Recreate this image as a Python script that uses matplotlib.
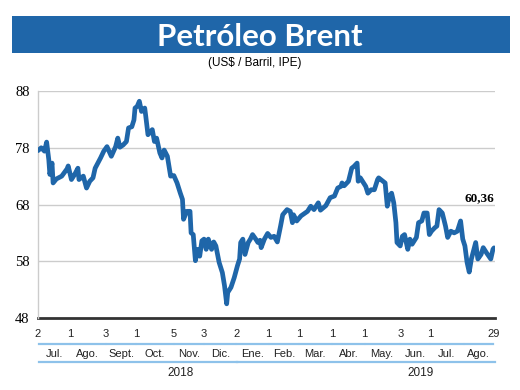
#!/usr/bin/env python3
import datetime as dt

import matplotlib
matplotlib.use("Agg")
import matplotlib.pyplot as plt
from matplotlib.patches import Rectangle
from matplotlib.transforms import blended_transform_factory


# ──────────────────────────────────────────────────────────────────────────────
# Data
# ──────────────────────────────────────────────────────────────────────────────

TITLE = "Petróleo Brent"
SUBTITLE = "(US$ / Barril, IPE)"

DATES = [
    "2018-07-02", "2018-07-05", "2018-07-08", "2018-07-10", "2018-07-12",
    "2018-07-13", "2018-07-15", "2018-07-16", "2018-07-19", "2018-07-24",
    "2018-07-29", "2018-07-30", "2018-08-02", "2018-08-05", "2018-08-08",
    "2018-08-09", "2018-08-13", "2018-08-16", "2018-08-19", "2018-08-22",
    "2018-08-24", "2018-08-29", "2018-09-01", "2018-09-04", "2018-09-08",
    "2018-09-12", "2018-09-14", "2018-09-16", "2018-09-19", "2018-09-22",
    "2018-09-24", "2018-09-27", "2018-09-29", "2018-09-30", "2018-10-02",
    "2018-10-04", "2018-10-06", "2018-10-09", "2018-10-10", "2018-10-12",
    "2018-10-16", "2018-10-18", "2018-10-20", "2018-10-23", "2018-10-25",
    "2018-10-27", "2018-10-30", "2018-10-31", "2018-11-02", "2018-11-05",
    "2018-11-08", "2018-11-11", "2018-11-13", "2018-11-14", "2018-11-17",
    "2018-11-20", "2018-11-21", "2018-11-23", "2018-11-25", "2018-11-27",
    "2018-11-29", "2018-12-01", "2018-12-03", "2018-12-05", "2018-12-07",
    "2018-12-10", "2018-12-12", "2018-12-14", "2018-12-17", "2018-12-20",
    "2018-12-22", "2018-12-24", "2018-12-25", "2018-12-28", "2018-12-31",
    "2019-01-03", "2019-01-05", "2019-01-06", "2019-01-08", "2019-01-10",
    "2019-01-13", "2019-01-15", "2019-01-17", "2019-01-20", "2019-01-22",
    "2019-01-24", "2019-01-25", "2019-01-28", "2019-01-31", "2019-02-03",
    "2019-02-06", "2019-02-09", "2019-02-12", "2019-02-14", "2019-02-18",
    "2019-02-21", "2019-02-23", "2019-02-24", "2019-02-27", "2019-03-03",
    "2019-03-09", "2019-03-12", "2019-03-15", "2019-03-19", "2019-03-21",
    "2019-03-26", "2019-03-30", "2019-04-03", "2019-04-06", "2019-04-09",
    "2019-04-10", "2019-04-12", "2019-04-16", "2019-04-19", "2019-04-21",
    "2019-04-24", "2019-04-25", "2019-04-27", "2019-04-30", "2019-05-02",
    "2019-05-04", "2019-05-07", "2019-05-10", "2019-05-13", "2019-05-14",
    "2019-05-18", "2019-05-20", "2019-05-22", "2019-05-24", "2019-05-26",
    "2019-05-28", "2019-05-30", "2019-05-31", "2019-06-03", "2019-06-05",
    "2019-06-07", "2019-06-10", "2019-06-12", "2019-06-14", "2019-06-18",
    "2019-06-20", "2019-06-23", "2019-06-25", "2019-06-28", "2019-06-30",
    "2019-07-02", "2019-07-05", "2019-07-07", "2019-07-09", "2019-07-12",
    "2019-07-15", "2019-07-17", "2019-07-20", "2019-07-23", "2019-07-26",
    "2019-07-29", "2019-07-31", "2019-08-02", "2019-08-04", "2019-08-06",
    "2019-08-08", "2019-08-12", "2019-08-14", "2019-08-17", "2019-08-19",
    "2019-08-22", "2019-08-26", "2019-08-28", "2019-08-29",
]

PRICES = [
    77.5, 78.0, 77.4, 79.0, 75.9,
    73.3, 75.3, 71.8, 72.5, 73.0,
    74.3, 74.8, 72.4, 73.3, 74.4,
    72.4, 73.0, 70.9, 72.1, 72.7,
    74.4, 76.2, 77.4, 78.2, 76.5,
    78.2, 79.7, 78.1, 78.5, 79.1,
    81.5, 81.7, 82.9, 85.0, 85.3,
    86.2, 84.4, 85.0, 83.5, 80.3,
    81.2, 79.1, 79.7, 77.1, 76.2,
    77.6, 76.5, 75.3, 73.0, 73.1,
    71.8, 70.0, 68.9, 65.4, 66.8,
    66.8, 63.0, 62.7, 58.1, 60.1,
    58.9, 61.6, 61.9, 60.1, 61.9,
    60.1, 61.4, 60.7, 57.8, 56.0,
    53.7, 50.5, 52.5, 53.4, 55.1,
    57.2, 58.4, 61.3, 61.9, 59.2,
    61.3, 61.9, 62.7, 61.9, 61.3,
    61.7, 60.4, 61.9, 62.9, 62.2,
    62.4, 61.4, 64.2, 66.2, 67.1,
    66.8, 64.8, 66.2, 65.1, 66.0,
    66.8, 67.7, 67.1, 68.3, 67.0,
    67.8, 69.2, 69.5, 70.9, 71.2,
    71.8, 71.3, 72.1, 74.4, 74.7,
    75.3, 72.1, 72.7, 71.8, 71.2,
    70.0, 70.6, 70.6, 72.4, 72.7,
    72.1, 71.8, 67.7, 69.5, 70.0,
    68.3, 64.8, 61.3, 60.7, 62.4,
    62.7, 60.1, 61.9, 61.0, 62.2,
    64.8, 65.1, 66.5, 66.5, 62.7,
    63.3, 63.9, 64.2, 67.1, 66.5,
    64.2, 62.2, 63.3, 63.0, 63.3,
    65.1, 61.9, 60.7, 57.8, 56.1,
    58.4, 61.3, 58.4, 59.2, 60.4,
    59.5, 58.4, 60.1, 60.36,
]

LAST_LABEL = "60,36"

# first trading day shown for each month (segment boundaries on the axis)
TICK_DATES = [
    "2018-07-02", "2018-08-01", "2018-09-03", "2018-10-01", "2018-11-05",
    "2018-12-03", "2019-01-02", "2019-02-01", "2019-03-01", "2019-04-01",
    "2019-05-01", "2019-06-03", "2019-07-01", "2019-08-01", "2019-08-29",
]
TICK_LABELS = ["2", "1", "3", "1", "5", "3", "2", "1", "1", "1", "1", "3", "1", "", "29"]
MONTHS = ["Jul.", "Ago.", "Sept.", "Oct.", "Nov.", "Dic.", "Ene.",
          "Feb.", "Mar.", "Abr.", "May.", "Jun.", "Jul.", "Ago."]
YEARS = ["2018", "2019"]
YEAR_STARTS = [0, 6]          # index into TICK_DATES where each year begins
YEAR_LABEL_AT = ["2018-11-11", "2019-06-22"]

Y_TICKS = [48, 58, 68, 78, 88]


# ──────────────────────────────────────────────────────────────────────────────
# Helpers
# ──────────────────────────────────────────────────────────────────────────────

def to_date(s: str) -> dt.date:
    return dt.date.fromisoformat(s)


BLUE = "#1f66a9"
LIGHT_BLUE = "#8ec2ea"
SANS = ["Liberation Sans", "DejaVu Sans"]


def main():
    dates = [to_date(s) for s in DATES]
    ticks = [to_date(s) for s in TICK_DATES]

    fig = plt.figure(figsize=(5.2, 3.9), dpi=100)

    # --- title banner ---
    fig.patches.append(Rectangle((0.023, 0.864), 0.958, 0.095, transform=fig.transFigure,
                                 facecolor=BLUE, edgecolor="none"))
    fig.text(0.50, 0.906, TITLE, color="white", fontsize=22.5, fontweight="bold",
             family="Lato", ha="center", va="center")
    fig.text(0.49, 0.838, SUBTITLE, fontsize=8.5, family=SANS, ha="center", va="center")

    ax = fig.add_axes([0.0731, 0.1846, 0.879, 0.582])
    ax.plot(dates, PRICES, color=BLUE, linewidth=3.4, solid_joinstyle="round",
            solid_capstyle="round", zorder=3)

    ax.set_ylim(Y_TICKS[0], Y_TICKS[-1])
    ax.set_xlim(ticks[0] - dt.timedelta(days=0.3), ticks[-1] + dt.timedelta(days=1.5))
    ax.set_yticks(Y_TICKS)
    ax.set_yticklabels([str(v) for v in Y_TICKS], family="Liberation Serif", fontsize=10.5)
    ax.tick_params(axis="y", length=0, pad=6)
    ax.set_xticks([])

    for v in Y_TICKS[1:]:
        ax.axhline(v, color="#cccccc", linewidth=1.0, zorder=1)
    ax.axhline(Y_TICKS[0], color="#333333", linewidth=2.0, zorder=2, clip_on=False)

    for side in ("top", "right", "bottom"):
        ax.spines[side].set_visible(False)
    ax.spines["left"].set_color("#cccccc")
    ax.spines["left"].set_linewidth(1.0)

    # --- last value label ---
    ax.annotate(LAST_LABEL, (dates[-1], PRICES[-1]), xytext=(0, 36),
                textcoords="offset points", ha="right", va="center",
                family="Liberation Serif", fontweight="bold", fontsize=9.5)

    # --- custom date axis: day numbers, month and year bands ---
    tr = blended_transform_factory(ax.transData, ax.transAxes)
    gap = dt.timedelta(days=1.8)

    for d, lab in zip(ticks, TICK_LABELS):
        ax.text(d, -0.072, lab, transform=tr, ha="center", va="center",
                fontsize=8, family=SANS, color="#222222")

    for i, name in enumerate(MONTHS):
        a, b = ticks[i], ticks[i + 1]
        ax.plot([a + gap, b - gap], [-0.113, -0.113], transform=tr, color=LIGHT_BLUE,
                linewidth=1.6, clip_on=False)
        mid = a + (b - a) / 2
        ax.text(mid, -0.16, name, transform=tr, ha="center", va="center",
                fontsize=8, family=SANS, color="#222222")

    ends = YEAR_STARTS[1:] + [len(ticks) - 1]
    for year, s, e, at in zip(YEARS, YEAR_STARTS, ends, YEAR_LABEL_AT):
        ax.plot([ticks[s] + gap, ticks[e] + gap], [-0.195, -0.195], transform=tr,
                color=LIGHT_BLUE, linewidth=1.6, clip_on=False)
        ax.text(to_date(at), -0.243, year, transform=tr, ha="center", va="center",
                fontsize=8.5, family=SANS, color="#222222")

    fig.savefig("out.png", dpi=100)


if __name__ == "__main__":
    main()
